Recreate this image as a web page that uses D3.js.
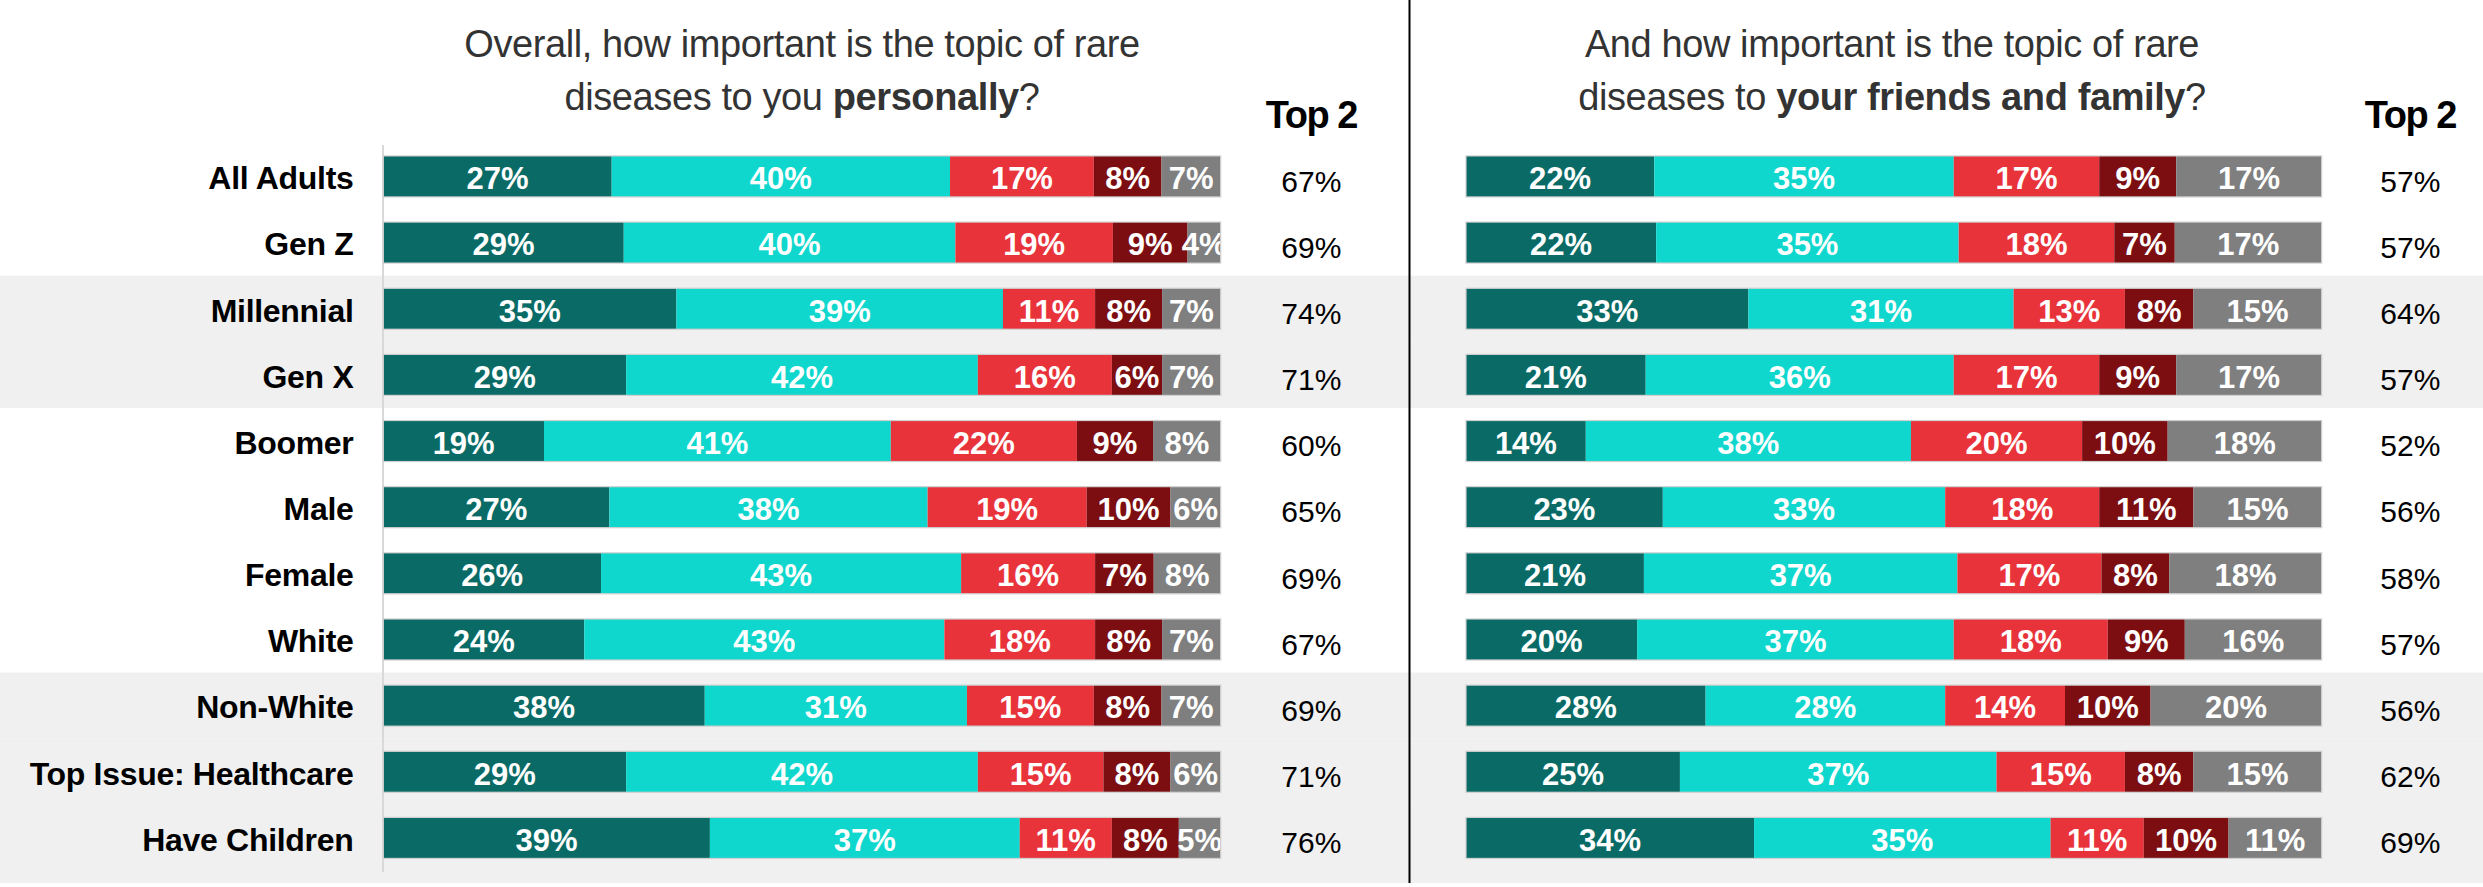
<!DOCTYPE html>
<html>
<head>
<meta charset="utf-8">
<script src="https://cdn.jsdelivr.net/npm/d3@7"></script>
<style>
  body { margin: 0; background: #fff; }
  svg { display: block; font-family: "Liberation Sans", Arial, sans-serif; }
</style>
</head>
<body>
<svg id="chart" width="2483" height="887"></svg>
<script>
// ---------- data ----------
const categories = ["All Adults", "Gen Z", "Millennial", "Gen X", "Boomer", "Male", "Female", "White", "Non-White", "Top Issue: Healthcare", "Have Children"];
const shadedRows = ["Millennial", "Gen X", "Non-White", "Top Issue: Healthcare", "Have Children"];
const segmentNames = ["Very important", "Somewhat important", "Not very important", "Not at all important", "Not sure"];

// Personally
const personalVery     = [27, 29, 35, 29, 19, 27, 26, 24, 38, 29, 39];
const personalSomewhat = [40, 40, 39, 42, 41, 38, 43, 43, 31, 42, 37];
const personalNotVery  = [17, 19, 11, 16, 22, 19, 16, 18, 15, 15, 11];
const personalNotAtAll = [ 8,  9,  8,  6,  9, 10,  7,  8,  8,  8,  8];
const personalNotSure  = [ 7,  4,  7,  7,  8,  6,  8,  7,  7,  6,  5];
const personalTop2     = [67, 69, 74, 71, 60, 65, 69, 67, 69, 71, 76];

// Friends and family
const familyVery     = [22, 22, 33, 21, 14, 23, 21, 20, 28, 25, 34];
const familySomewhat = [35, 35, 31, 36, 38, 33, 37, 37, 28, 37, 35];
const familyNotVery  = [17, 18, 13, 17, 20, 18, 17, 18, 14, 15, 11];
const familyNotAtAll = [ 9,  7,  8,  9, 10, 11,  8,  9, 10,  8, 10];
const familyNotSure  = [17, 17, 15, 17, 18, 15, 18, 16, 20, 15, 11];
const familyTop2     = [57, 57, 64, 57, 52, 56, 58, 57, 56, 62, 69];

const top2Header = "Top 2";
const titleLeft  = [["Overall, how important is the topic of rare", false], ["diseases to you ", false, "personally", true, "?", false]];
const titleRight = [["And how important is the topic of rare", false], ["diseases to ", false, "your friends and family", true, "?", false]];

// ---------- style ----------
const colors = ["#0a6b66", "#10d7cd", "#e8333a", "#7c0e11", "#7f7f7f"];
const W = 2483, H = 887;

const svg = d3.select("#chart");
svg.append("rect").attr("width", W).attr("height", H).attr("fill", "#ffffff");

// row scale
const y = d3.scaleBand()
  .domain(categories)
  .range([143.35, 143.35 + 11 * 66.15])
  .paddingInner(0.38)
  .paddingOuter(0.19);
const step = y.step();
const bw = y.bandwidth();

// background bands
svg.append("g").selectAll("rect")
  .data(shadedRows)
  .join("rect")
  .attr("x", 0)
  .attr("width", W)
  .attr("y", d => y(d) + bw / 2 - step / 2)
  .attr("height", d => d === categories[categories.length - 1] ? step / 2 + 45 - bw / 2 + bw / 2 : step)
  .attr("fill", "#f0f0f0");

// fix last band to extend down
svg.selectAll("g rect").filter(d => d === "Have Children")
  .attr("height", d => (y(d) + bw / 2 + 45) - (y(d) + bw / 2 - step / 2));

// divider
svg.append("line")
  .attr("x1", 1409.5).attr("x2", 1409.5)
  .attr("y1", 0).attr("y2", 883)
  .attr("stroke", "#000").attr("stroke-width", 2);

// left axis line
svg.append("line")
  .attr("x1", 383).attr("x2", 383)
  .attr("y1", 145).attr("y2", 872)
  .attr("stroke", "#d9d9d9").attr("stroke-width", 2);

// category labels
svg.append("g").selectAll("text")
  .data(categories)
  .join("text")
  .attr("x", 353.5)
  .attr("y", d => y(d) + bw / 2 + 12.8)
  .attr("text-anchor", "end")
  .attr("font-weight", "bold")
  .attr("font-size", 32)
  .attr("letter-spacing", -0.3)
  .attr("fill", "#000")
  .text(d => d);

function drawPanel(id, seriesArr, top2, x0, x1, titleLines, titleCx, top2Cx) {
  const g = svg.append("g").attr("class", id);
  const rows = categories.map((c, i) => {
    const vals = seriesArr.map(s => s[i]);
    return { cat: c, vals, total: d3.sum(vals) };
  });

  // clip paths per row
  const defs = svg.append("defs");
  rows.forEach((r, i) => {
    defs.append("clipPath").attr("id", `${id}-clip-${i}`)
      .append("rect")
      .attr("x", x0).attr("y", y(r.cat))
      .attr("width", x1 - x0).attr("height", bw);
  });

  rows.forEach((r, i) => {
    const x = d3.scaleLinear().domain([0, r.total]).range([x0, x1]);
    const stacked = [];
    let acc = 0;
    r.vals.forEach((v, k) => { stacked.push({ k, v, a: acc, b: acc + v }); acc += v; });
    const rg = g.append("g").attr("clip-path", `url(#${id}-clip-${i})`);
    rg.selectAll("rect")
      .data(stacked)
      .join("rect")
      .attr("x", d => x(d.a))
      .attr("y", y(r.cat))
      .attr("width", d => x(d.b) - x(d.a))
      .attr("height", bw)
      .attr("fill", d => colors[d.k]);
    rg.selectAll("text")
      .data(stacked)
      .join("text")
      .attr("x", d => (x(d.a) + x(d.b)) / 2)
      .attr("y", y(r.cat) + bw / 2 + 12.8)
      .attr("text-anchor", "middle")
      .attr("font-weight", "bold")
      .attr("font-size", 31)
      .attr("fill", "#fff")
      .text(d => d.v + "%");
    g.append("rect")
      .attr("x", x0).attr("y", y(r.cat))
      .attr("width", x1 - x0).attr("height", bw)
      .attr("fill", "none").attr("stroke", "#cfcfcf").attr("stroke-width", 1.2);
  });

  // top 2 header
  g.append("text")
    .attr("x", top2Cx).attr("y", 128.3)
    .attr("text-anchor", "middle")
    .attr("font-weight", "bold").attr("font-size", 38)
    .attr("letter-spacing", -1.5)
    .attr("fill", "#000")
    .text(top2Header);

  // top 2 values
  g.append("g").selectAll("text")
    .data(categories.map((c, i) => ({ c, v: top2[i] })))
    .join("text")
    .attr("x", top2Cx)
    .attr("y", d => y(d.c) + bw / 2 + 15.2)
    .attr("text-anchor", "middle")
    .attr("font-size", 30)
    .attr("fill", "#000")
    .text(d => d.v + "%");

  // title
  const baselines = [57, 110];
  titleLines.forEach((line, li) => {
    const t = g.append("text")
      .attr("x", titleCx).attr("y", baselines[li])
      .attr("text-anchor", "middle")
      .attr("font-size", 38)
      .attr("letter-spacing", -0.4)
      .attr("fill", "#333333");
    for (let j = 0; j < line.length; j += 2) {
      t.append("tspan")
        .attr("font-weight", line[j + 1] ? "bold" : "normal")
        .text(line[j]);
    }
  });
}

drawPanel("left", [personalVery, personalSomewhat, personalNotVery, personalNotAtAll, personalNotSure],
  personalTop2, 383.3, 1220.7, titleLeft, 802, 1311.3);
drawPanel("right", [familyVery, familySomewhat, familyNotVery, familyNotAtAll, familyNotSure],
  familyTop2, 1466, 2321.7, titleRight, 1892, 2410.3);
</script>
</body>
</html>
